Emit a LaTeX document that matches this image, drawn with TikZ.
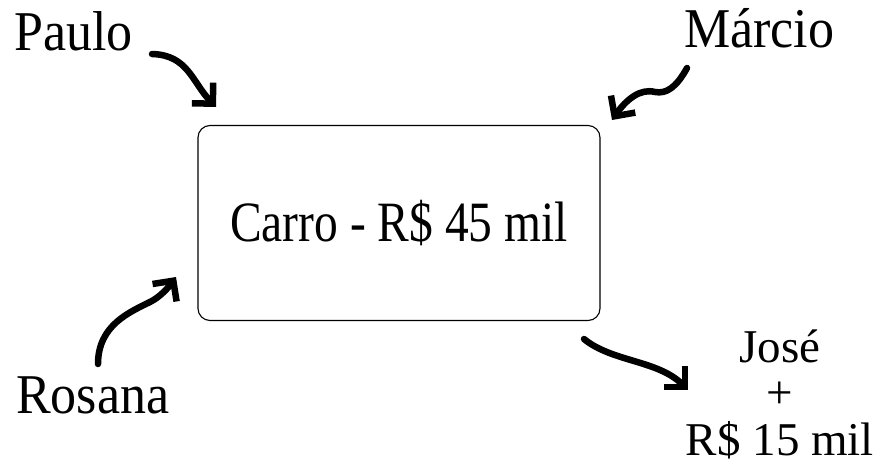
\documentclass[tikz,border=0pt]{standalone}
\usepackage{fontspec}
\setmainfont{Liberation Serif}
\usetikzlibrary{arrows.meta}
\newcommand\stretchy[2]{\scalebox{1}[#1]{#2}}
\begin{document}
\begin{tikzpicture}[x=1pt,y=-1pt,
  person/.style={inner sep=0pt,font=\fontsize{52}{56}\selectfont},
  pen/.style={line width=6.5pt,line cap=round,line join=round,
    -{Straight Barb[angle=90:21pt,line width=6.5pt]}}]
  \useasboundingbox (0,0) rectangle (878,466);
  % the car and its price
  \node[draw,line width=1.1pt,rounded corners=12pt,minimum width=402pt,
    minimum height=195pt,inner sep=0pt,font=\fontsize{47.5}{50}\selectfont]
    (car) at (399,223) {\stretchy{1.2}{Carro - R\$ 45 mil}};
  % people around it
  \node[person,anchor=base west] (paulo) at (14,50) {\stretchy{1.08}{Paulo}};
  \node[person,anchor=base west] (marcio) at (684,47) {\stretchy{1.08}{Márcio}};
  \node[person,anchor=base west] (rosana) at (16,413) {\stretchy{1.08}{Rosana}};
  \node[inner sep=0pt,align=center,anchor=base,text depth=0pt,
    font=\fontsize{47}{46.5}\selectfont] (jose) at (780,455)
    {José\\+\\R\$ 15 mil};
  % arrow ends
  \coordinate (p1) at (152,54);  \coordinate (p2) at (216,107);
  \coordinate (m1) at (687,68);  \coordinate (m2) at (612,120);
  \coordinate (r1) at (98,364);  \coordinate (r2) at (176,277);
  \coordinate (j1) at (584,339); \coordinate (j2) at (688,390);
  \draw[pen] (p1) .. controls (188,55) and (192,82) .. (p2);
  \draw[pen] (m1) .. controls (676,88) and (666,94) .. (655,92)
    .. controls (640,88) and (626,100) .. (m2);
  \draw[pen] (r1) .. controls (98,325) and (130,312) .. (150,302)
    .. controls (160,297) and (168,288) .. (r2);
  \draw[pen] (j1) .. controls (612,362) and (658,360) .. (j2);
\end{tikzpicture}
\end{document}
